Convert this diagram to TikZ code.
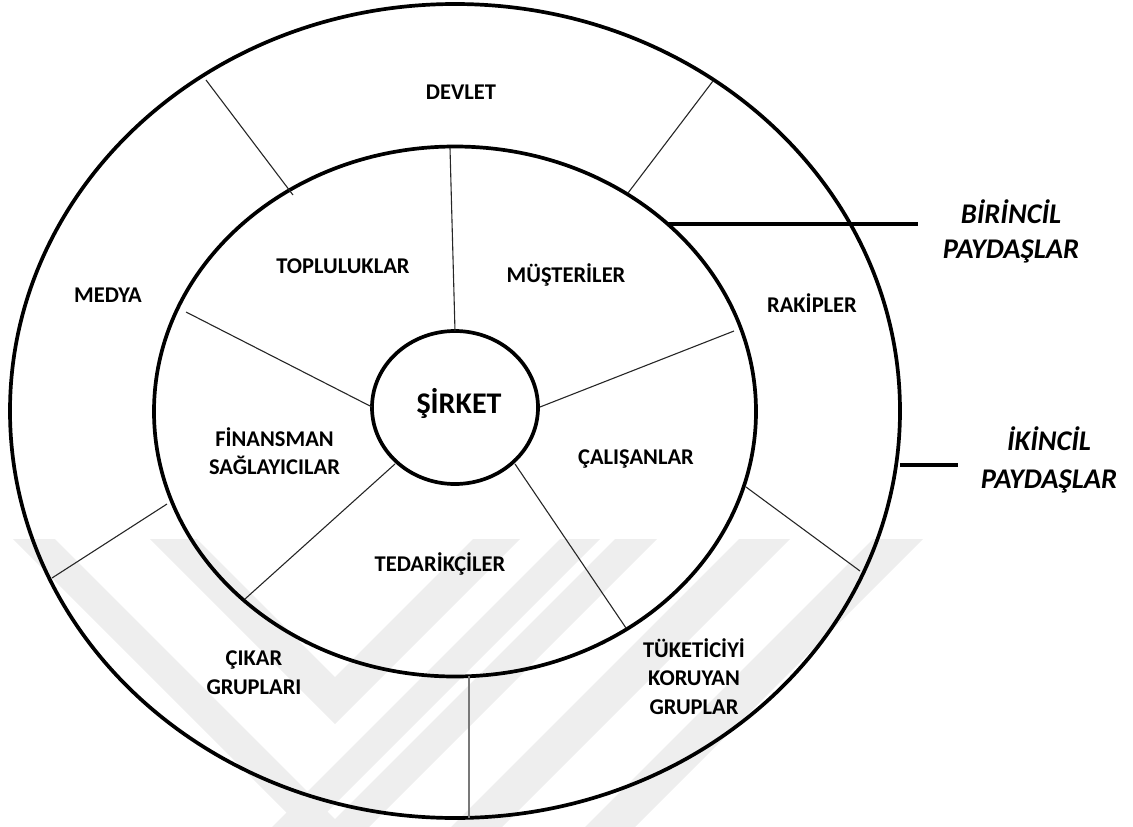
\documentclass[tikz,border=0pt]{standalone}
\usepackage{fontspec}
\setmainfont{Carlito}
\usetikzlibrary{shapes.geometric}
\definecolor{wmark}{RGB}{238,238,238}
\begin{document}
\begin{tikzpicture}[x=1pt,y=-1pt,
  ring/.style={draw, line width=3.7pt, ellipse, inner sep=0pt, outer sep=0pt},
  spoke/.style={draw=black!85, line width=1.1pt},
  bottomspoke/.style={draw={rgb,255:red,120;green,120;blue,120}, line width=1.8pt},
  lbl/.style={font=\bfseries\fontsize{22.5}{28.5}\selectfont, align=center, inner sep=0pt},
  sidelbl/.style={font=\bfseries\itshape\fontsize{28.5}{35}\selectfont, align=center, inner sep=0pt},
  pointer/.style={line width=4pt},
  band/.style={fill=wmark, draw=none}]
\useasboundingbox (0,0) rectangle (1133,827);

% faint chevron emblem in the lower half
\begin{scope}
  \clip (0,0) rectangle (1133,827);
  \fill[band] (13,539) -- (335,861) -- (657,539) -- (615,539) -- (335,819) -- (55,539) -- cycle;
  \fill[band] (150,539) -- (335,724) -- (520,539) -- (473,539) -- (335,677) -- (197,539) -- cycle;
  \fill[band] (560,539) -- (600,539) -- (312,827) -- (272,827) -- cycle;
  \fill[band] (739,539) -- (790,539) -- (502,827) -- (451,827) -- cycle;
  \fill[band] (873,539) -- (923,539) -- (635,827) -- (585,827) -- cycle;
\end{scope}

% rings
\node[ring, minimum width=890pt, minimum height=814pt] (outer) at (455,411) {};
\node[ring, minimum width=602pt, minimum height=530pt] (middle) at (455,411.5) {};
\node[ring, minimum width=166pt, minimum height=153pt] (core) at (455,407.5) {};
\node[lbl, font=\bfseries\fontsize{30}{36}\selectfont, anchor=base] (sirket) at (459,413) {ŞİRKET};

% spoke end points
\coordinate (s1a) at (455,331);  \coordinate (s1b) at (450,148);
\coordinate (s2a) at (372,407);  \coordinate (s2b) at (186,312);
\coordinate (s3a) at (540,407);  \coordinate (s3b) at (734,331);
\coordinate (s4a) at (515,464);  \coordinate (s4b) at (626,628);
\coordinate (s5a) at (395,464);  \coordinate (s5b) at (245,599);
% outer ring dividers
\coordinate (d1a) at (206,80);   \coordinate (d1b) at (293,195);
\coordinate (d2a) at (713,81);   \coordinate (d2b) at (628,193);
\coordinate (d3a) at (746,487);  \coordinate (d3b) at (860,571);
\coordinate (d4a) at (167,504);  \coordinate (d4b) at (52,578);
\coordinate (d5a) at (469,676);  \coordinate (d5b) at (469,818);

\draw[spoke] (s1a) -- (s1b);
\draw[spoke] (s2a) -- (s2b);
\draw[spoke] (s3a) -- (s3b);
\draw[spoke] (s4a) -- (s4b);
\draw[spoke] (s5a) -- (s5b);
\draw[spoke] (d1a) -- (d1b);
\draw[spoke] (d2a) -- (d2b);
\draw[spoke] (d3a) -- (d3b);
\draw[spoke] (d4a) -- (d4b);
\draw[bottomspoke] (d5a) -- (d5b);

% inner ring labels
\node[lbl, anchor=base] (toplu) at (343,273) {TOPLULUKLAR};
\node[lbl, anchor=base] (must) at (566,282) {MÜŞTERİLER};
\node[lbl, anchor=base] (calis) at (636,464) {ÇALIŞANLAR};
\node[lbl, anchor=base] (tedar) at (440,571) {TEDARİKÇİLER};
\node[lbl] (finans) at (274.5,451) {FİNANSMAN\\SAĞLAYICILAR};

% outer ring labels
\node[lbl, anchor=base] (devlet) at (461,99) {DEVLET};
\node[lbl, anchor=base] (medya) at (108,302) {MEDYA};
\node[lbl, anchor=base] (rakip) at (812,312) {RAKİPLER};
\node[lbl] (cikar) at (254,672.5) {ÇIKAR\\GRUPLARI};
\node[lbl] (tuket) at (694,676.5) {TÜKETİCİYİ\\KORUYAN\\GRUPLAR};

% side annotations
\coordinate (p1a) at (667,224); \coordinate (p1b) at (918,224);
\coordinate (p2a) at (900,465); \coordinate (p2b) at (958,465);
\draw[pointer] (p1a) -- (p1b);
\draw[pointer] (p2a) -- (p2b);
\node[sidelbl] (birincil) at (1011,231) {BİRİNCİL\\PAYDAŞLAR};
\node[sidelbl, font=\bfseries\itshape\fontsize{28.5}{38}\selectfont] (ikincil) at (1049,460) {İKİNCİL\\PAYDAŞLAR};
\end{tikzpicture}
\end{document}
